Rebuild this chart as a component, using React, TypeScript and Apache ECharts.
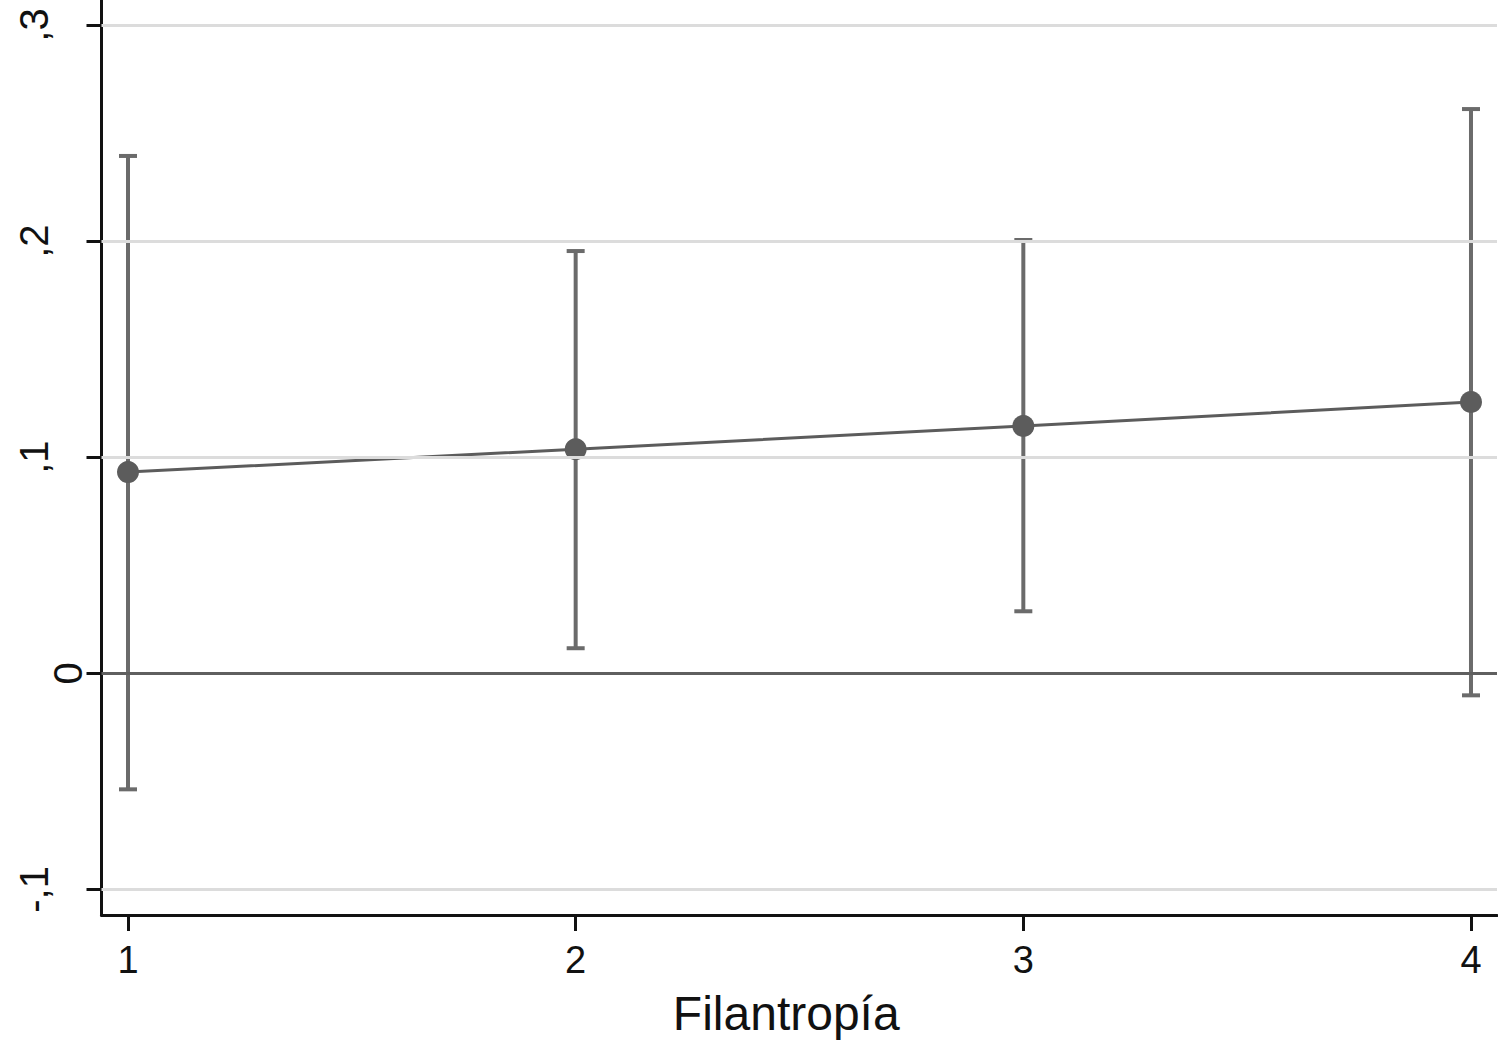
import React, { useEffect, useRef } from "react";
import * as echarts from "echarts";

const categories = [1, 2, 3, 4];
const estimates = [0.0931, 0.1037, 0.1144, 0.1255];
const lowerCI = [-0.0537, 0.0116, 0.0287, -0.0102];
const upperCI = [0.2394, 0.1954, 0.2005, 0.2611];
const yTicks = [-0.1, 0, 0.1, 0.2, 0.3];
const gridValues = [-0.1, 0.1, 0.2, 0.3];
const xTitle = "Filantropía";

function fmtY(v: number): string {
  if (Math.abs(v) < 1e-9) return "0";
  const s = Math.round(Math.abs(v) * 10);
  return (v < 0 ? "-" : "") + "," + s;
}

export default function App() {
  const ref = useRef<HTMLDivElement>(null);
  useEffect(() => {
    document.body.style.margin = "0";
    const chart = echarts.init(ref.current!, null, { renderer: "svg" });
    const font = "'Liberation Sans', Arial, Helvetica, sans-serif";
    const option: any = {
      animation: false,
      backgroundColor: "#ffffff",
      grid: { left: 101.5, right: 1, top: 0, bottom: 143 },
      xAxis: {
        type: "value",
        min: 0.9408,
        max: 4.0581,
        name: xTitle,
        nameLocation: "middle",
        nameGap: 74,
        nameTextStyle: { fontFamily: font, fontSize: 48, color: "#111", padding: [0, 26, 0, 0] },
        axisLine: { show: true, onZero: false, lineStyle: { color: "#111", width: 3 } },
        axisTick: { show: true, length: 16, customValues: categories, lineStyle: { color: "#111", width: 3 } },
        axisLabel: {
          customValues: categories,
          fontFamily: font,
          fontSize: 38,
          color: "#111",
          margin: 26,
          formatter: (v: number) => String(v),
        },
        splitLine: { show: false },
      },
      yAxis: {
        type: "value",
        min: -0.11185,
        max: 0.31157,
        axisLine: { show: true, onZero: false, lineStyle: { color: "#111", width: 3 } },
        axisTick: { show: true, length: 15, customValues: yTicks, lineStyle: { color: "#111", width: 3 } },
        axisLabel: {
          customValues: yTicks,
          rotate: 90,
          fontFamily: font,
          fontSize: 40,
          color: "#111",
          margin: 14,
          formatter: (v: number) => (Math.abs(v) < 1e-9 ? "{z|0}" : "{n|" + fmtY(v) + "}"),
          rich: {
            z: { fontFamily: font, fontSize: 40, color: "#111" },
            n: { fontFamily: font, fontSize: 40, color: "#111", padding: [0, 0, 34, 0] },
          },
        },
        splitLine: { show: false },
      },
      series: [
        {
          type: "line",
          data: [],
          z: 1,
          silent: true,
          markLine: {
            silent: true,
            symbol: "none",
            label: { show: false },
            animation: false,
            data: [
              ...gridValues.map((v) => ({ yAxis: v, lineStyle: { color: "#dcdcdc", width: 3, type: "solid" } })),
              { yAxis: 0, lineStyle: { color: "#5f5f5f", width: 3, type: "solid" } },
            ],
          },
        },
        {
          type: "custom",
          z: 3,
          silent: true,
          data: categories.map((c, i) => [c, lowerCI[i], upperCI[i]]),
          encode: { x: 0, y: [1, 2] },
          renderItem: (params: any, api: any) => {
            const x = api.value(0);
            const lo = api.coord([x, api.value(1)]);
            const hi = api.coord([x, api.value(2)]);
            const hw = 9;
            const style = { stroke: "#6b6b6b", lineWidth: 4 };
            return {
              type: "group",
              children: [
                { type: "line", shape: { x1: hi[0], y1: hi[1], x2: lo[0], y2: lo[1] }, style },
                { type: "line", shape: { x1: hi[0] - hw, y1: hi[1], x2: hi[0] + hw, y2: hi[1] }, style },
                { type: "line", shape: { x1: lo[0] - hw, y1: lo[1], x2: lo[0] + hw, y2: lo[1] }, style },
              ],
            };
          },
        },
        {
          type: "line",
          z: 4,
          silent: true,
          data: categories.map((c, i) => [c, estimates[i]]),
          symbol: "circle",
          symbolSize: 22,
          lineStyle: { color: "#5c5c5c", width: 3 },
          itemStyle: { color: "#5c5c5c" },
        },
      ],
    };
    chart.setOption(option);
    return () => chart.dispose();
  }, []);
  return <div ref={ref} style={{ width: 1498, height: 1058 }} />;
}
